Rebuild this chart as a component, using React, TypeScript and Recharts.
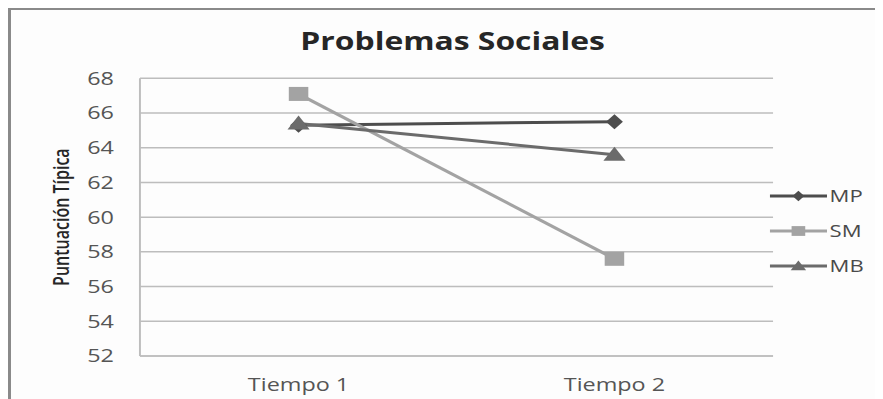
import React from 'react';
import { LineChart, Line, XAxis, YAxis, CartesianGrid, Label } from 'recharts';

const categories = ['Tiempo 1', 'Tiempo 2'];
const mpValues = [65.3, 65.5];
const smValues = [67.1, 57.6];
const mbValues = [65.4, 63.6];
const yTicks = [52, 54, 56, 58, 60, 62, 64, 66, 68];
const seriesNames = ['MP', 'SM', 'MB'];
const seriesColors = ['#4d4d4d', '#a3a3a3', '#6b6b6b'];
const title = 'Problemas Sociales';
const yLabel = 'Puntuación Típica';

const data = categories.map((name, i) => ({
  name,
  MP: mpValues[i],
  SM: smValues[i],
  MB: mbValues[i],
}));

const FONT = "'Open Sans', sans-serif";
const S = 1.3; // horizontal stretch of the original image
const W = 673;
const H = 391;

type Shape = 'diamond' | 'square' | 'triangle';
const shapes: Shape[] = ['diamond', 'square', 'triangle'];

function marker(shape: Shape, cx: number, cy: number, color: string, k: number, key?: any) {
  if (shape === 'diamond') {
    const w = 6.5 * k, h = 7.5 * k;
    return <polygon key={key} points={`${cx},${cy - h} ${cx + w},${cy} ${cx},${cy + h} ${cx - w},${cy}`} fill={color} />;
  }
  if (shape === 'square') {
    const w = 7.5 * k, h = 7 * k;
    return <rect key={key} x={cx - w} y={cy - h} width={2 * w} height={2 * h} fill={color} />;
  }
  const w = 8.5 * k, t = 8 * k, b = 6 * k;
  return <polygon key={key} points={`${cx},${cy - t} ${cx + w},${cy + b} ${cx - w},${cy + b}`} fill={color} />;
}

const makeDot = (shape: Shape, color: string) => (props: any) =>
  marker(shape, props.cx, props.cy, color, 1, `${shape}-${props.index}`);

export default function App() {
  return (
    <div style={{ position: 'relative', width: 875, height: H, background: '#fdfdfd', overflow: 'hidden' }}>
      <div style={{ position: 'absolute', left: 0, top: 0, right: 0, bottom: 0, borderTop: '2px solid #8a8a8a', borderLeft: '3px solid #8a8a8a' }} />
      <div style={{ position: 'absolute', left: 0, top: 0, width: W, height: H, transform: `scaleX(${S})`, transformOrigin: '0 0' }}>
        <div style={{ position: 'absolute', left: 342 - 200, top: 21, width: 400, textAlign: 'center', fontFamily: FONT, fontWeight: 700, fontSize: 24.5, lineHeight: '24.5px', color: '#262626' }}>
          {title}
        </div>
        <LineChart width={W} height={H} data={data} margin={{ top: 70.3, right: 84.5, bottom: 13, left: 0 }}>
          <CartesianGrid horizontal vertical={false} stroke="#bdbdbd" strokeWidth={1.5} />
          <XAxis
            dataKey="name"
            height={30}
            padding={{ left: 122, right: 122 }}
            tickLine={false}
            tickSize={0}
            tickMargin={22}
            axisLine={{ stroke: '#bdbdbd', strokeWidth: 1.5 }}
            tick={{ fill: '#555555', fontSize: 18, fontFamily: FONT }}
          />
          <YAxis
            domain={[52, 68]}
            ticks={yTicks}
            interval={0}
            width={101.5}
            tickLine={false}
            tickSize={0}
            tickMargin={20}
            axisLine={{ stroke: '#bdbdbd', strokeWidth: 1.5 }}
            tick={{ fill: '#555555', fontSize: 18, fontFamily: FONT }}
          >
            <Label
              value={yLabel}
              angle={-90}
              position="insideLeft"
              offset={41.5}
              style={{ textAnchor: 'middle', fontFamily: FONT, fontSize: 16, fontWeight: 600, fill: '#262626' }}
            />
          </YAxis>
          {seriesNames.map((n, i) => (
            <Line
              key={n}
              type="linear"
              dataKey={n}
              stroke={seriesColors[i]}
              strokeWidth={3}
              dot={makeDot(shapes[i], seriesColors[i])}
              activeDot={false}
              isAnimationActive={false}
            />
          ))}
        </LineChart>
        <div style={{ position: 'absolute', left: 586, top: 170.5, fontFamily: FONT, fontSize: 17, color: '#4a4a4a' }}>
          {seriesNames.map((n, i) => (
            <div key={n} style={{ display: 'flex', alignItems: 'center', height: 35 }}>
              <svg width={44} height={20} style={{ display: 'block' }}>
                <line x1={0} y1={10} x2={44} y2={10} stroke={seriesColors[i]} strokeWidth={3} />
                {marker(shapes[i], 22, 10, seriesColors[i], 0.7)}
              </svg>
              <span style={{ marginLeft: 2, lineHeight: '20px' }}>{n}</span>
            </div>
          ))}
        </div>
      </div>
    </div>
  );
}
